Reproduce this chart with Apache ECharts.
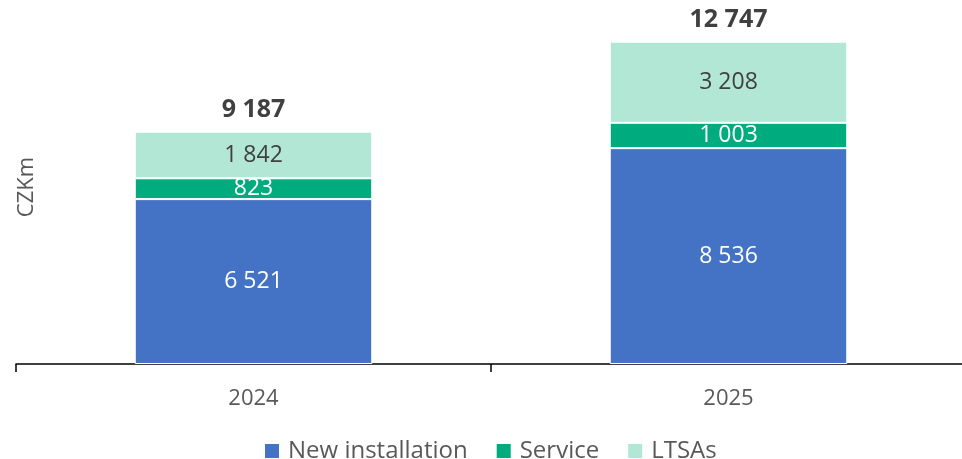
<!DOCTYPE html>
<html lang="en">
<head>
    <meta charset="UTF-8">
    <script src="https://cdn.jsdelivr.net/npm/echarts@6/dist/echarts.min.js"></script>
    <title>CZKm</title>
</head>
<body style="margin:0;">
<div id="container" style="width: 962px; height: 459px;"></div>
<script>
    let years = ['2024', '2025'];
    let newInstallation = [6521, 8536];
    let service = [823, 1003];
    let ltsas = [1842, 3208];
    let totals = [9187, 12747];

    function fmt(v) {
        return String(v).replace(/\B(?=(\d{3})+(?!\d))/g, ' ');
    }

    let myChart = echarts.init(document.getElementById('container'));
    let font = '"Open Sans", "Noto Sans", sans-serif';

    let barLabel = function (color) {
        return {
            show: true,
            position: 'inside',
            color: color,
            fontSize: 23,
            fontFamily: font,
            formatter: function (p) { return fmt(p.value); }
        };
    };

    let option = {
        animation: false,
        textStyle: {fontFamily: font},
        grid: {left: 16, width: 950, top: 10, bottom: 95, containLabel: false, outerBoundsMode: 'none'},
        legend: {
            data: ['New installation', 'Service', 'LTSAs'],
            bottom: -9,
            left: 258,
            icon: 'rect',
            itemWidth: 16,
            itemHeight: 16,
            itemGap: 27,
            textStyle: {fontSize: 24, color: '#595959', fontFamily: font, padding: [0, 0, 0, 3]}
        },
        xAxis: {
            type: 'category',
            data: years,
            axisLine: {lineStyle: {color: '#000', width: 1.5}},
            axisTick: {show: true, length: 8, lineStyle: {color: '#000', width: 1.5}},
            axisLabel: {fontSize: 22, color: '#595959', margin: 24, fontFamily: font}
        },
        yAxis: {
            type: 'value',
            min: 0,
            max: 14000,
            show: true,
            axisLine: {show: false},
            axisTick: {show: false},
            axisLabel: {show: false},
            splitLine: {show: false},
            name: 'CZKm',
            nameLocation: 'middle',
            nameGap: -22,
            nameTextStyle: {fontSize: 22, color: '#595959', fontFamily: font}
        },
        series: [
            {
                name: 'New installation', type: 'bar', stack: 'a', barWidth: '50%',
                data: newInstallation,
                itemStyle: {color: '#4472C4', borderColor: '#fff', borderWidth: 1},
                label: barLabel('#fff')
            },
            {
                name: 'Service', type: 'bar', stack: 'a',
                data: service,
                itemStyle: {color: '#00AC7E', borderColor: '#fff', borderWidth: 1},
                label: barLabel('#fff')
            },
            {
                name: 'LTSAs', type: 'bar', stack: 'a',
                data: ltsas,
                itemStyle: {color: '#B2E6D5', borderColor: '#fff', borderWidth: 1},
                label: barLabel('#404040')
            },
            {
                name: 'Total', type: 'bar', stack: 'a',
                data: [0, 0],
                itemStyle: {color: 'transparent'},
                label: {
                    show: true,
                    position: 'top',
                    distance: 9,
                    color: '#404040',
                    fontSize: 25,
                    fontWeight: 'bold',
                    fontFamily: font,
                    formatter: function (p) { return fmt(totals[p.dataIndex]); }
                }
            }
        ]
    };
    myChart.setOption(option);
</script>
</body>
</html>
